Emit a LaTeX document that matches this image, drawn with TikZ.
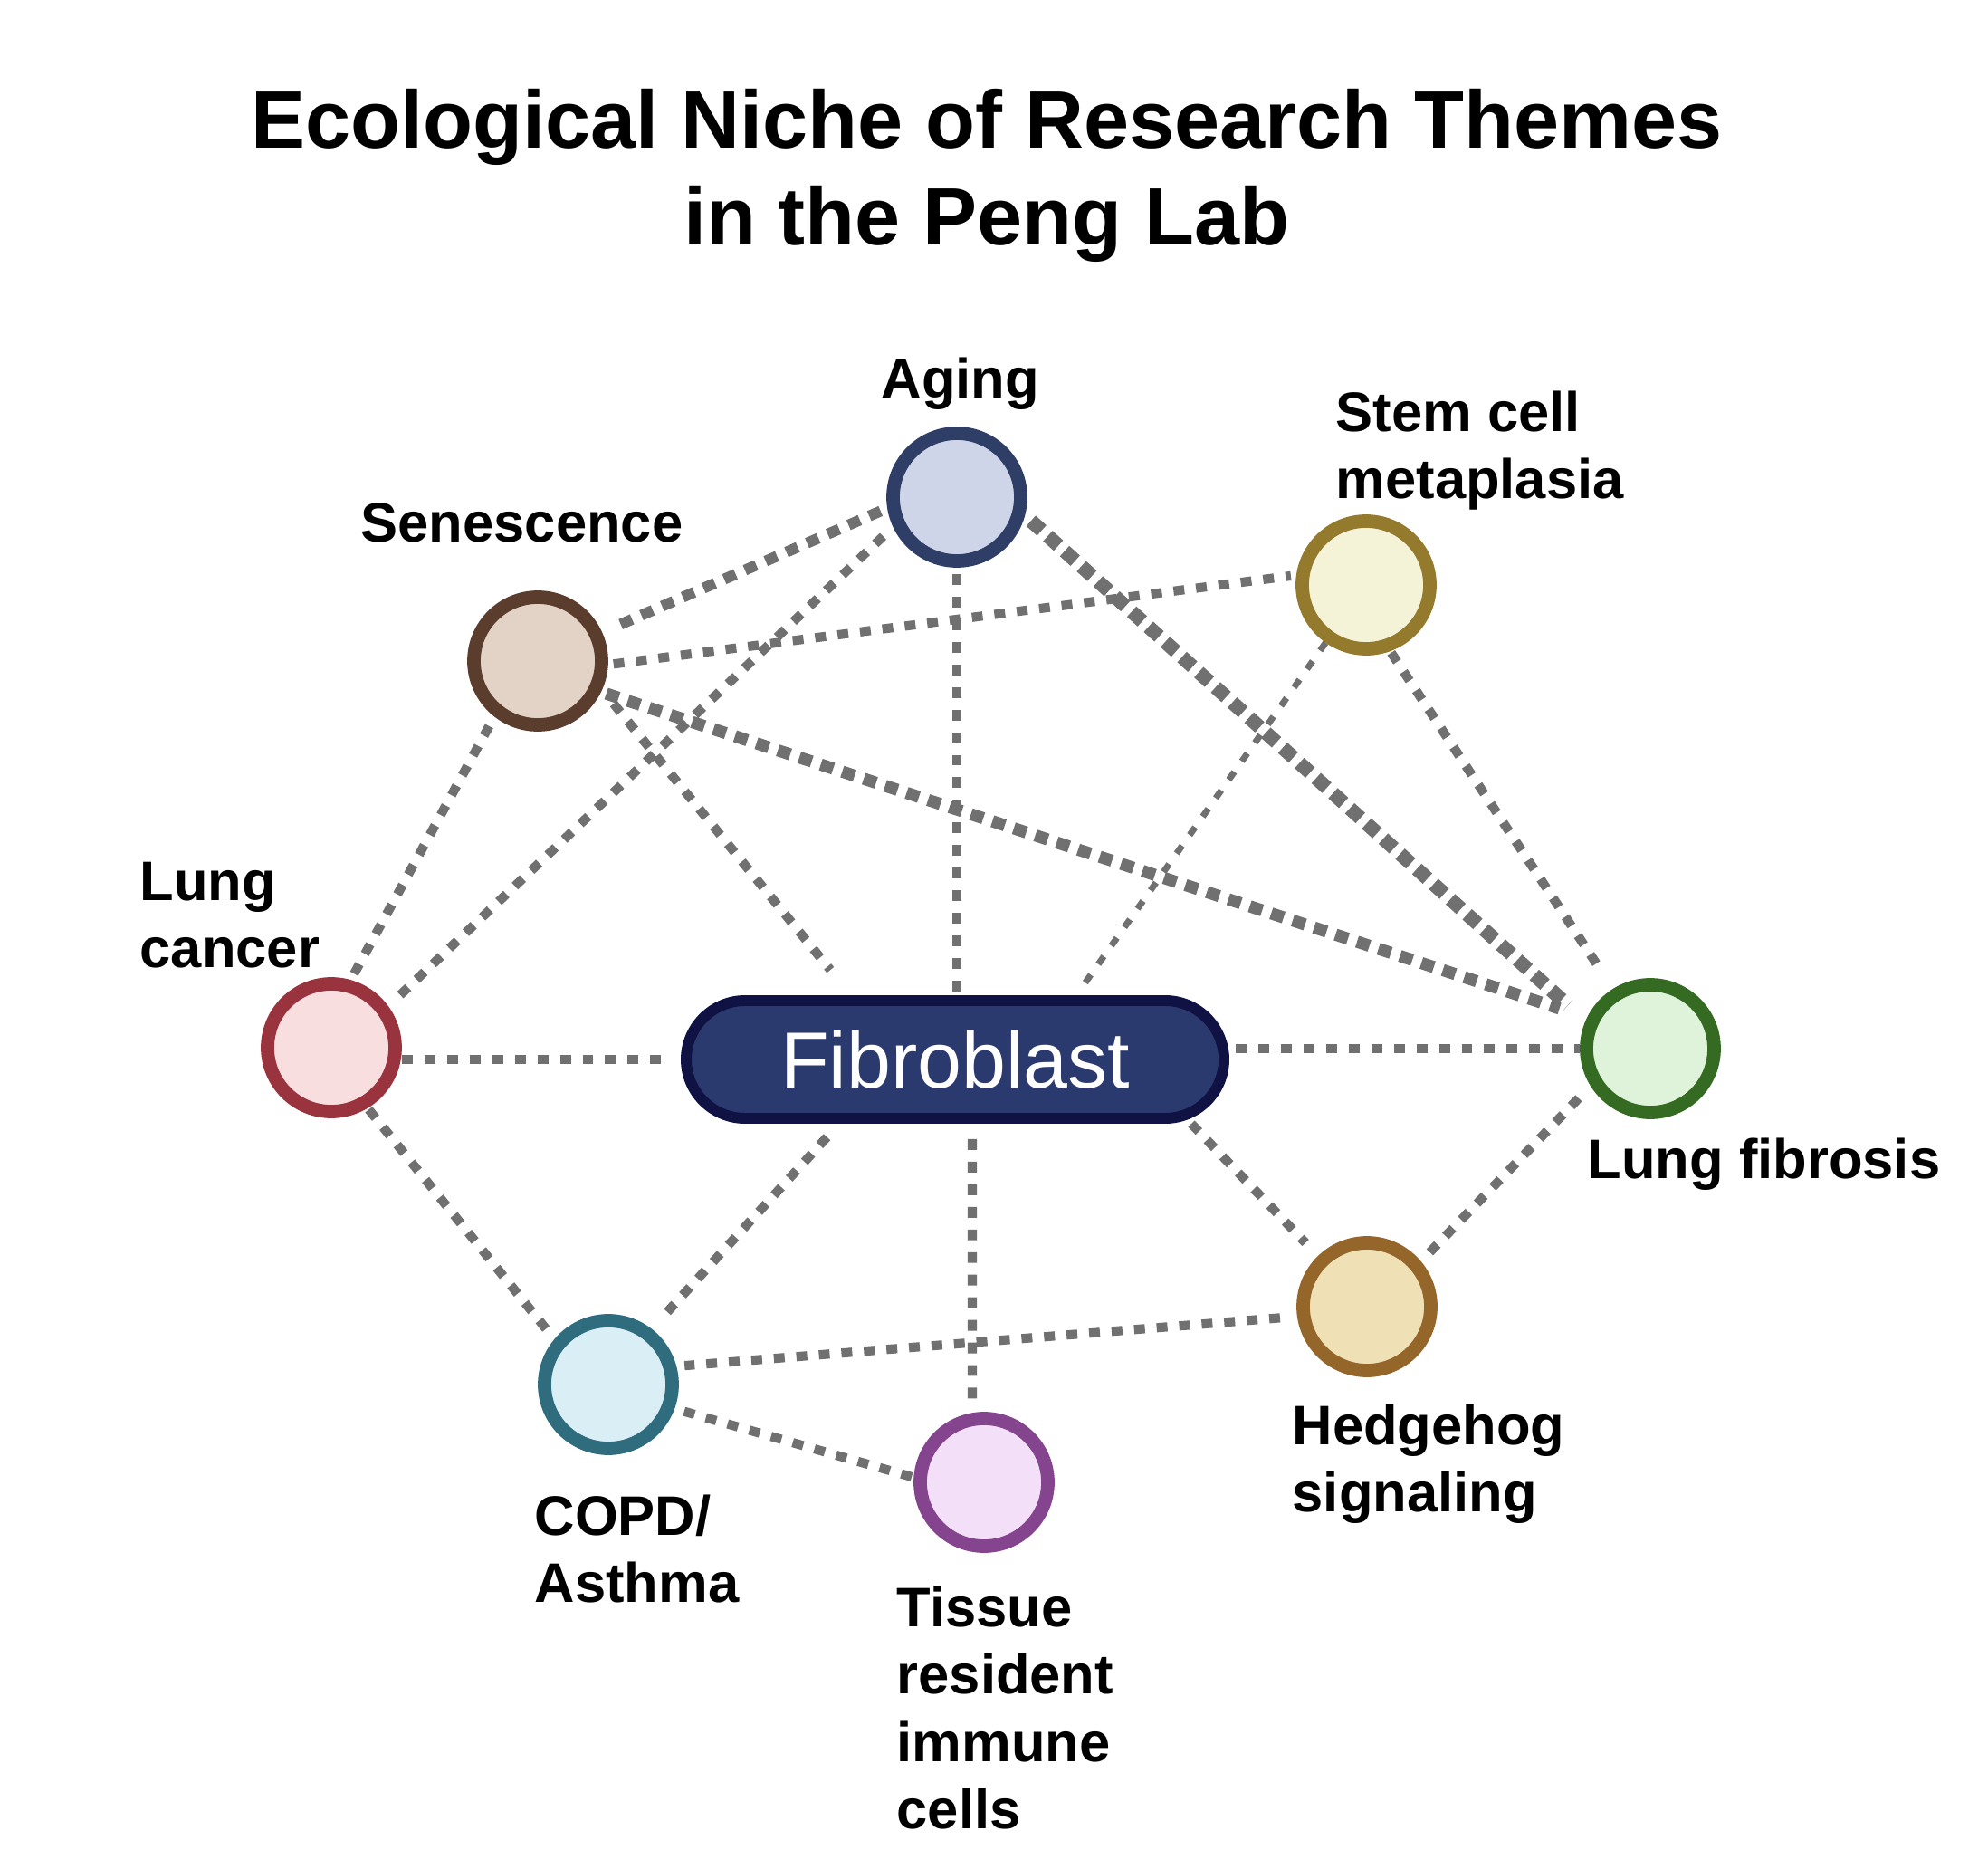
\documentclass[tikz,border=0pt]{standalone}
\usepackage{fontspec}
\setmainfont{Liberation Sans}
\usetikzlibrary{shapes.misc,backgrounds}
\definecolor{linkgray}{HTML}{707070}
\definecolor{agingfill}{HTML}{CED5E8}\definecolor{agingdraw}{HTML}{2F3E66}
\definecolor{senfill}{HTML}{E2D3C6}\definecolor{sendraw}{HTML}{5B3D2E}
\definecolor{stemfill}{HTML}{F4F3D8}\definecolor{stemdraw}{HTML}{947A2C}
\definecolor{lffill}{HTML}{DFF3DA}\definecolor{lfdraw}{HTML}{356A22}
\definecolor{hhfill}{HTML}{F0E0B5}\definecolor{hhdraw}{HTML}{956629}
\definecolor{copdfill}{HTML}{D9EFF5}\definecolor{copddraw}{HTML}{2E6C7E}
\definecolor{tisfill}{HTML}{F3E0F8}\definecolor{tisdraw}{HTML}{84458E}
\definecolor{lcfill}{HTML}{F8DEDE}\definecolor{lcdraw}{HTML}{99333E}
\definecolor{fibfill}{HTML}{2B3A6E}\definecolor{fibdraw}{HTML}{0F1242}
\tikzset{
  theme/.style 2 args={circle, minimum size=1.41cm, inner sep=0pt, line width=4.2pt, draw=#1, fill=#2},
  lab/.style={font=\bfseries\fontsize{17.5}{21.2}\selectfont, align=left, inner sep=0pt, anchor=north west},
  link/.style={draw=linkgray, line width=2.9pt, dash pattern=on 3.4pt off 3.7pt},
  semilink/.style={draw=linkgray, line width=3.4pt, dash pattern=on 3.9pt off 3.2pt},
  boldlink/.style={draw=linkgray, line width=3.8pt, dash pattern=on 4.1pt off 3pt},
  heavylink/.style={draw=linkgray, line width=4.4pt, dash pattern=on 4.5pt off 2.6pt},
  thinlink/.style={draw=linkgray, line width=2pt, dash pattern=on 3pt off 4.1pt}
}
\begin{document}
\begin{tikzpicture}
\useasboundingbox (0,0) rectangle (21.96,-20.64);

\node[font=\bfseries\fontsize{25.6}{30.2}\selectfont, align=center, anchor=north, inner sep=0pt] (title) at (10.90,-0.98) {Ecological Niche of Research Themes\\in the Peng Lab};

\node[theme={agingdraw}{agingfill}] (aging) at (10.57,-5.49) {};
\node[theme={sendraw}{senfill}] (sen) at (5.94,-7.30) {};
\node[theme={stemdraw}{stemfill}] (stem) at (15.09,-6.46) {};
\node[theme={lfdraw}{lffill}] (lf) at (18.23,-11.58) {};
\node[theme={hhdraw}{hhfill}] (hh) at (15.10,-14.43) {};
\node[theme={copddraw}{copdfill}] (copd) at (6.72,-15.29) {};
\node[theme={tisdraw}{tisfill}] (tissue) at (10.87,-16.37) {};
\node[theme={lcdraw}{lcfill}] (lc) at (3.66,-11.57) {};

\node[rounded rectangle, minimum width=5.94cm, minimum height=1.30cm, line width=3.4pt, draw=fibdraw, fill=fibfill, text=white, font=\fontsize{25}{30}\selectfont, inner sep=0pt] (fib) at (10.55,-11.70) {Fibroblast};

\node[lab] (laging) at (9.73,-3.94) {Aging};
\node[lab] (lsen) at (3.98,-5.55) {Senescence};
\node[lab] (lstem) at (14.75,-4.31) {Stem cell\\metaplasia};
\node[lab] (llc) at (1.54,-9.51) {Lung\\cancer};
\node[lab] (llf) at (17.53,-12.56) {Lung fibrosis};
\node[lab] (lhh) at (14.27,-15.50) {Hedgehog\\signaling};
\node[lab] (lcopd) at (5.90,-16.50) {COPD/\\Asthma};
\node[lab] (ltis) at (9.90,-17.51) {Tissue\\resident\\immune\\cells};

\begin{scope}[on background layer]
\fill[white] (0,0) rectangle (21.96,-20.64);
\draw[semilink, shorten <=0.08cm, shorten >=0.14cm] (aging.189) -- (sen.24);
\draw[link, shorten <=0.15cm, shorten >=0.09cm] (aging.205) -- (lc.36);
\draw[link, shorten <=0.07cm] (aging.south) -- (aging.south |- fib.north);
\draw[heavylink, shorten <=0.09cm, shorten >=0.26cm] (aging.-15) -- (lf.157);
\draw[link, shorten <=0.06cm, shorten >=0.06cm] (sen.-3) -- (stem.172);
\draw[boldlink, shorten <=0.06cm, shorten >=0.32cm] (sen.-26) -- (lf.154);
\draw[link, shorten <=0.2cm, shorten >=0.36cm] (sen.-24) -- ([xshift=-1.15cm]fib.north);
\draw[link, shorten <=0.12cm, shorten >=0.04cm] (sen.232) -- (lc.74);
\draw[thinlink, shorten >=0.17cm] (stem.235) -- ([xshift=1.34cm]fib.north);
\draw[link, shorten <=0.02cm, shorten >=0.32cm] (stem.-70) -- (lf.122);
\draw[link, shorten >=0.1cm] (fib.west -| lc.east) -- (fib.west);
\draw[link, shorten <=0.02cm, shorten >=0.14cm] (lc.-59) -- (copd.140);
\draw[link, shorten <=0.07cm] (lf.west -| fib.east) -- (lf.west);
\draw[link, shorten <=0.2cm, shorten >=0.13cm] ([xshift=-1.28cm]fib.south) -- (copd.52);
\draw[link, shorten <=0.17cm, shorten >=0.04cm] ([xshift=0.19cm]fib.south) -- ([xshift=-0.13cm]tissue.north);
\draw[link, shorten >=0.2cm] ([xshift=2.61cm]fib.south) -- (hh.134);
\draw[link, shorten <=0.14cm, shorten >=0.15cm] (hh.40) -- (lf.212);
\draw[link, shorten <=0.19cm, shorten >=0.09cm] (hh.188) -- (copd.15);
\draw[link, shorten <=0.11cm, shorten >=0.01cm] (copd.-20) -- (tissue.176);
\end{scope}
\end{tikzpicture}
\end{document}
